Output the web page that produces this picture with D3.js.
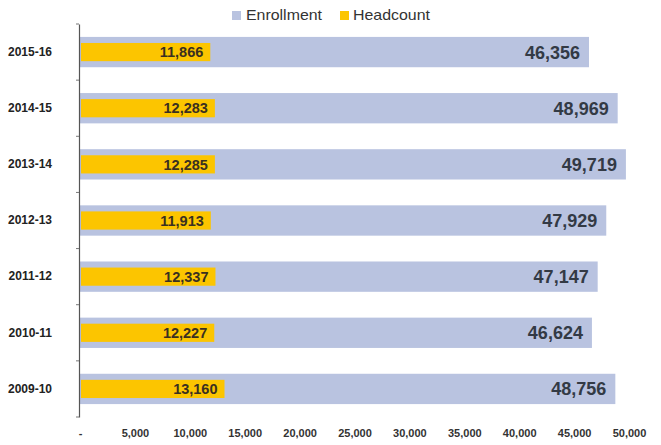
<!DOCTYPE html>
<html><head><meta charset="utf-8">
<script src="https://cdn.jsdelivr.net/npm/d3@7"></script>
<style>body{margin:0;background:#fff}svg{display:block}</style>
</head><body>
<svg id="c" width="661" height="445"></svg>
<script>
const categories = ["2015-16","2014-15","2013-14","2012-13","2011-12","2010-11","2009-10"];
const enrollment = [46356,48969,49719,47929,47147,46624,48756];
const headcount = [11866,12283,12285,11913,12337,12227,13160];
const tickValues = [0,5000,10000,15000,20000,25000,30000,35000,40000,45000,50000];
const seriesNames = ["Enrollment","Headcount"];

const svg = d3.select("#c");
const x = d3.scaleLinear().domain([0,50000]).range([80,629]);
const y = d3.scaleBand().domain(categories).range([24,417]).paddingInner(0.46).paddingOuter(0.23);
const colE = "#b9c3e0", colH = "#fcc500";
const fmt = d3.format(",");
const FF = "Liberation Sans, Arial, sans-serif";

svg.selectAll("rect.e").data(categories).join("rect")
  .attr("x", x(0)).attr("y", d=>y(d))
  .attr("width", (d,i)=>x(enrollment[i])-x(0)).attr("height", y.bandwidth()).attr("fill", colE);
const hh = y.bandwidth()*0.6;
svg.selectAll("rect.h").data(categories).join("rect")
  .attr("x", x(0)+1).attr("y", d=>y(d)+(y.bandwidth()-hh)/2)
  .attr("width", (d,i)=>x(headcount[i])-x(0)-1).attr("height", hh).attr("fill", colH);

svg.selectAll("text.e").data(categories).join("text")
  .attr("x",(d,i)=>x(enrollment[i])-9).attr("y", d=>y(d)+y.bandwidth()/2)
  .attr("dy","0.36em").attr("text-anchor","end")
  .attr("font-family",FF).attr("font-weight","bold")
  .attr("font-size",18).attr("fill","#333a45").text((d,i)=>fmt(enrollment[i]));
svg.selectAll("text.h").data(categories).join("text")
  .attr("x",(d,i)=>x(headcount[i])-7).attr("y", d=>y(d)+y.bandwidth()/2)
  .attr("dy","0.36em").attr("text-anchor","end")
  .attr("font-family",FF).attr("font-weight","bold")
  .attr("font-size",14.5).attr("fill","#3a3020").text((d,i)=>fmt(headcount[i]));

const yAxis = svg.append("g").attr("transform","translate(79,0)")
  .call(d3.axisLeft(y).tickSize(0).tickPadding(27));
yAxis.select(".domain").attr("stroke","#555").attr("stroke-width",1.2);
yAxis.selectAll("text").attr("font-family",FF)
  .attr("font-weight","bold").attr("font-size",12).attr("fill","#222");
svg.append("g").selectAll("line").data(d3.range(categories.length+1)).join("line")
  .attr("x1",76).attr("x2",79)
  .attr("y1",i=>24+i*y.step()).attr("y2",i=>24+i*y.step())
  .attr("stroke","#777");

const xAxis = svg.append("g").attr("transform","translate(0,426)")
  .call(d3.axisBottom(x).tickValues(tickValues).tickSize(0).tickFormat(d=>d===0?"-":fmt(d)));
xAxis.select(".domain").remove();
xAxis.selectAll("text").attr("font-family",FF)
  .attr("font-weight","bold").attr("font-size",11).attr("fill","#333");

const lg = svg.append("g").attr("font-family",FF).attr("font-size",15).attr("fill","#333");
const sqX = [232, 340], txX = [246, 353], txW = [76, 77];
[colE,colH].forEach((c,i)=>{
  lg.append("rect").attr("x",sqX[i]).attr("y",11).attr("width",9).attr("height",9).attr("fill",c);
  lg.append("text").attr("x",txX[i]).attr("y",15).attr("dy","0.36em")
    .attr("textLength",txW[i]).attr("lengthAdjust","spacingAndGlyphs").text(seriesNames[i]);
});
</script>
</body></html>
